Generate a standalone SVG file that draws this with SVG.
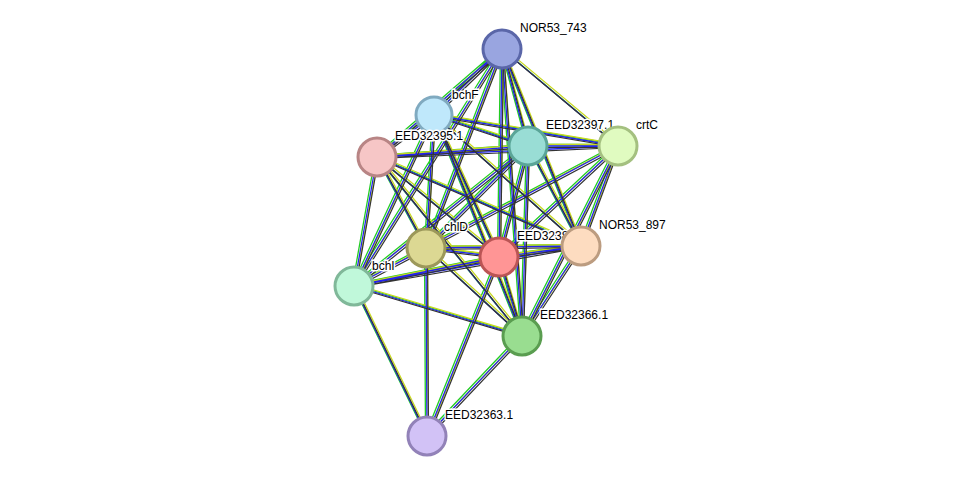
<svg xmlns="http://www.w3.org/2000/svg" xmlns:xlink="http://www.w3.org/1999/xlink" width="976" height="482" viewBox="0 0 976 482">
<style>
.n{stroke-width:3}
.t{font-family:"Liberation Sans",Arial,sans-serif;font-size:12px;fill:#000;stroke:#fff;stroke-width:3;paint-order:stroke}
.g{stroke:#22cc22;stroke-width:1.3;fill:none}
.y{stroke:#c8d820;stroke-width:1.3;fill:none}
.b{stroke:#2222ee;stroke-width:1.3;fill:none}
.k{stroke:#333;stroke-width:1.2;fill:none}
</style>
<defs>
<g id="eg">
<path d="M502,49L434,115M502,49L377,157M502,49L528,146M502,49L618,146M502,49L426,248M502,49L499,257M502,49L581,246M502,49L354,286M502,49L522,336
M434,115L377,157M434,115L528,146M434,115L618,146M434,115L426,248M434,115L499,257M434,115L581,246M434,115L354,286M434,115L522,336
M377,157L528,146M377,157L618,146M377,157L426,248M377,157L499,257M377,157L581,246M377,157L354,286M377,157L522,336
M528,146L618,146M528,146L426,248M528,146L499,257M528,146L581,246M528,146L354,286M528,146L522,336
M618,146L426,248M618,146L499,257M618,146L581,246M618,146L522,336
M426,248L499,257M426,248L581,246M426,248L354,286M426,248L522,336
M499,257L581,246M499,257L354,286M499,257L522,336
M581,246L354,286M581,246L522,336M354,286L522,336
M427,436L354,286M427,436L426,248M427,436L499,257M427,436L522,336"/>
</g>
</defs>
<g id="connectors">
<use xlink:href="#eg" class="g" transform="translate(-1.5,-1.5)"/>
<use xlink:href="#eg" class="y" transform="translate(1.5,-1.5)"/>
<use xlink:href="#eg" class="b"/>
<use xlink:href="#eg" class="k" transform="translate(1.5,1.5)"/>
</g>
<g id="NOR53_743"><circle class="n" cx="502" cy="49" r="19" fill="#99a5e0" stroke="#5a66a8"/><text class="t" x="520" y="32">NOR53_743</text></g>
<g id="bchF"><circle class="n" cx="434" cy="115" r="18" fill="#bfe8fb" stroke="#80aac0"/><text class="t" x="452" y="99">bchF</text></g>
<g id="EED32395.1"><circle class="n" cx="377" cy="157" r="19" fill="#f6c6c6" stroke="#b88585"/><text class="t" x="395" y="140">EED32395.1</text></g>
<g id="EED32397.1"><circle class="n" cx="528" cy="146" r="19" fill="#99ddd5" stroke="#5aa598"/><text class="t" x="546" y="129">EED32397.1</text></g>
<g id="crtC"><circle class="n" cx="618" cy="146" r="19" fill="#e0fbc0" stroke="#a4c080"/><text class="t" x="636" y="129">crtC</text></g>
<g id="chlD"><circle class="n" cx="426" cy="248" r="19" fill="#dcd893" stroke="#9c985a"/><text class="t" x="444" y="231">chlD</text></g>
<g id="EED32386.1"><circle class="n" cx="499" cy="257" r="19" fill="#ff9595" stroke="#bb5555"/><text class="t" x="517" y="240">EED32386.1</text></g>
<g id="NOR53_897"><circle class="n" cx="581" cy="246" r="19" fill="#fddcc0" stroke="#bc9c80"/><text class="t" x="599" y="229">NOR53_897</text></g>
<g id="bchI"><circle class="n" cx="354" cy="286" r="19" fill="#c0f8da" stroke="#80b899"/><text class="t" x="372" y="270">bchI</text></g>
<g id="EED32366.1"><circle class="n" cx="522" cy="336" r="19" fill="#99dd90" stroke="#5a9d50"/><text class="t" x="540" y="319">EED32366.1</text></g>
<g id="EED32363.1"><circle class="n" cx="427" cy="436" r="19" fill="#d2c2f6" stroke="#9282b8"/><text class="t" x="445" y="419">EED32363.1</text></g>
</svg>
